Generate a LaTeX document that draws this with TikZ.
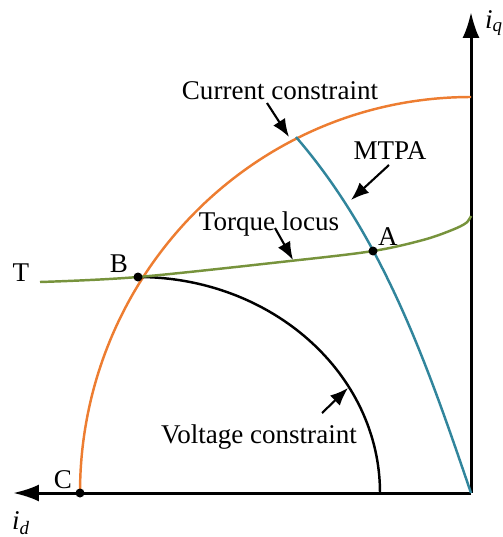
\documentclass[tikz,border=0pt]{standalone}
\usepackage{fontspec}
\setmainfont{Liberation Serif}
\usetikzlibrary{arrows.meta,positioning}
\definecolor{curorange}{HTML}{ED7D31}
\definecolor{mtpateal}{HTML}{31859C}
\definecolor{torqgreen}{HTML}{77933C}

\begin{document}
\begin{tikzpicture}[
  x=0.02cm, y=-0.02cm,
  lbl/.style={font=\fontsize{15.4}{18}\selectfont,inner sep=0pt},
  axis/.style={-{Latex[length=0.52cm,width=0.34cm]},line width=1.7pt},
  curve/.style={line width=1.4pt},
  pointer/.style={-{Latex[length=0.36cm,width=0.28cm]},line width=1.2pt},
  dot/.style={circle,fill,inner sep=0pt,minimum size=0.18cm}
]
\useasboundingbox (0,0) rectangle (503,537);
% axes
\coordinate (O) at (471,493);
\coordinate (qtop) at (471,12);
\coordinate (dleft) at (13,493);
\draw[axis] (O) -- (qtop);
\draw[axis] (O) -- (dleft);
\node[lbl] (iq) at (494,23) {\textit{i}\textsubscript{\textit{q}}};
\node[lbl] (id) at (21,523) {\textit{i}\textsubscript{\textit{d}}};

% curves
\draw[curve,curorange] (80,493) arc[start angle=180,end angle=270,x radius=391,y radius=396];
\draw[curve,black] (138,277) arc[start angle=270,end angle=360,x radius=242,y radius=216];
\draw[curve,mtpateal] (296,137) .. controls (385,240) and (429,370) .. (O);
\draw[curve,torqgreen] plot[smooth,tension=0.55] coordinates
  {(40,282) (138,277) (290,261) (373,251) (423,240) (452,230) (466,223) (471,216)};

% operating points
\node[dot] (A) at (373,251) {};
\node[dot] (B) at (138,277) {};
\node[dot] (C) at (80,493) {};
\node[lbl,anchor=base] (Alabel) at (388,245) {A};
\node[lbl,anchor=base] (Blabel) at (119,272) {B};
\node[lbl,anchor=base] (Clabel) at (63,488) {C};
\node[lbl,anchor=base] (Tlabel) at (21,281) {T};

% labels with pointers
\node[lbl,anchor=base] (curlbl) at (280,99) {Current constraint};
\node[lbl,anchor=base] (mtpalbl) at (390,159) {MTPA};
\node[lbl,anchor=base] (torqlbl) at (269,230) {Torque locus};
\node[lbl,anchor=base] (voltlbl) at (259,443) {Voltage constraint};
\coordinate (curfrom) at (267,103);
\coordinate (curtip) at (289,137);
\coordinate (mtpafrom) at (389,165);
\coordinate (mtpatip) at (351,200);
\coordinate (torqfrom) at (275,228);
\coordinate (torqtip) at (293,260);
\coordinate (voltfrom) at (322,413);
\coordinate (volttip) at (348,388);
\draw[pointer] (curfrom) -- (curtip);
\draw[pointer] (mtpafrom) -- (mtpatip);
\draw[pointer] (torqfrom) -- (torqtip);
\draw[pointer] (voltfrom) -- (volttip);
\end{tikzpicture}
\end{document}
